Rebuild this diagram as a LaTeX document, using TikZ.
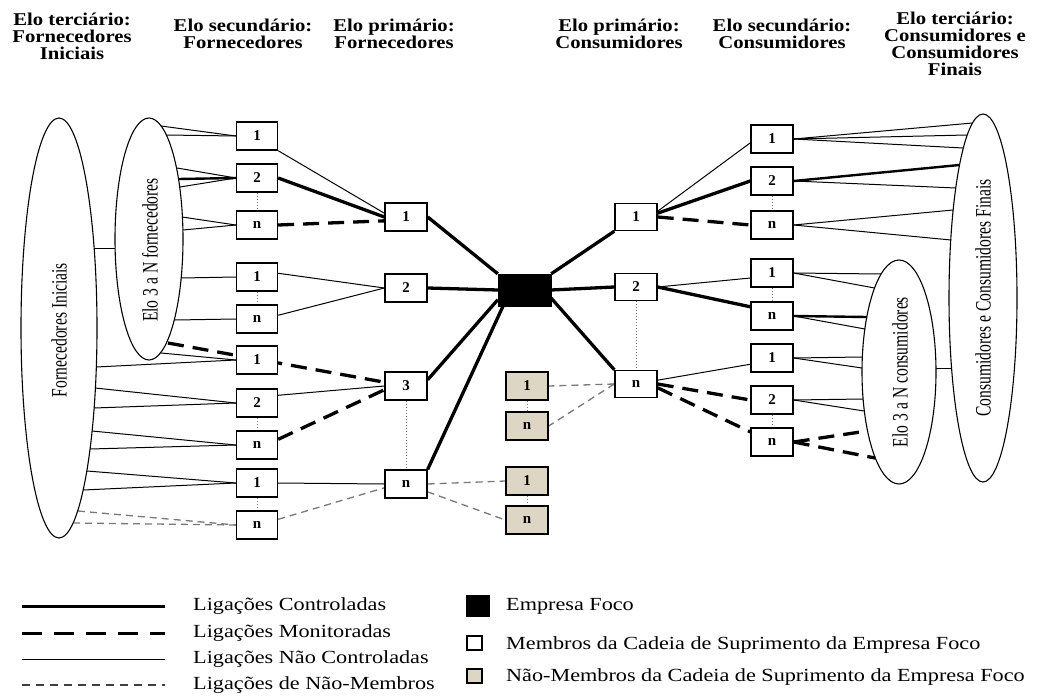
\documentclass[tikz,border=0pt]{standalone}
\usepackage{fontspec}
\setmainfont{Liberation Serif}
\newfontfamily\hdrfont[FakeStretch=1.15]{Liberation Serif}
\newfontfamily\rotfont[FakeStretch=0.71]{Liberation Serif}
\newfontfamily\legfont[FakeStretch=1.2]{Liberation Serif}
\usetikzlibrary{shapes.geometric}
\pgfdeclarelayer{bg}
\pgfsetlayers{bg,main}
\definecolor{beige}{RGB}{222,214,196}
\definecolor{nmgray}{RGB}{120,120,120}
\begin{document}
\begin{tikzpicture}[x=1pt,y=-1pt,
 box/.style={draw=black,line width=1.4pt,fill=white,minimum width=41pt,minimum height=28pt,inner sep=0pt,font=\bfseries\fontsize{15}{15}\selectfont},
 nmbox/.style={box,fill=beige},
 focus/.style={draw=black,fill=black,minimum width=53pt,minimum height=32pt,inner sep=0pt},
 hdr/.style={align=center,inner sep=0pt,font=\hdrfont\bfseries\fontsize{18}{17}\selectfont},
 ell/.style={draw=black,line width=1.1pt,ellipse,inner sep=0pt},
 rottxt/.style={rotate=90,inner sep=0pt,font=\rotfont\fontsize{22}{22}\selectfont},
 ctrl/.style={line width=3.3pt},
 mon/.style={line width=3.3pt,dash pattern=on 16pt off 9pt},
 unc/.style={line width=1pt},
 nonm/.style={line width=1.3pt,nmgray,dash pattern=on 7pt off 5pt},
 dots/.style={line width=1pt,nmgray,dotted},
 leg/.style={anchor=west,inner sep=0pt,font=\legfont\fontsize{18.5}{18.5}\selectfont}]
\useasboundingbox (0,0) rectangle (1040,698);

% headers
\node[hdr] (h1) at (72,36) {Elo terciário:\\Fornecedores\\Iniciais};
\node[hdr] (h2) at (243,34) {Elo secundário:\\Fornecedores};
\node[hdr] (h3) at (394,34) {Elo primário:\\Fornecedores};
\node[hdr] (h4) at (619,34) {Elo primário:\\Consumidores};
\node[hdr] (h5) at (782,34) {Elo secundário:\\Consumidores};
\node[hdr] (h6) at (955,44) {Elo terciário:\\Consumidores e\\Consumidores\\Finais};

% ellipses
\node[ell,minimum width=76pt,minimum height=420pt] (EB) at (59,328) {};
\node[rottxt] (EBt) at (59,330) {Fornecedores Iniciais};
\node[ell,minimum width=68pt,minimum height=242pt] (ES) at (149,239) {};
\node[rottxt] (ESt) at (150,250) {Elo 3 a N fornecedores};
\node[ell,minimum width=68pt,minimum height=368pt] (RB) at (983,298) {};
\node[rottxt] (RBt) at (983,298) {Consumidores e Consumidores Finais};
\node[ell,minimum width=74pt,minimum height=224pt] (RS) at (899,372) {};
\node[rottxt] (RSt) at (900,372) {Elo 3 a N consumidores};

% left secondary boxes
\node[box] (L1a) at (257,136) {1};
\node[box] (L2a) at (257,178) {2};
\node[box] (Lna) at (257,225) {n};
\node[box] (L1b) at (257,277) {1};
\node[box] (Lnb) at (257,319) {n};
\node[box] (L1c) at (257,360) {1};
\node[box] (L2c) at (257,403) {2};
\node[box] (Lnc) at (257,445) {n};
\node[box] (L1d) at (257,483) {1};
\node[box] (Lnd) at (257,525) {n};
% primary suppliers
\node[box,minimum width=42pt] (P1) at (406,217) {1};
\node[box,minimum width=42pt] (P2) at (406,288) {2};
\node[box,minimum width=42pt] (P3) at (406,386) {3};
\node[box,minimum width=42pt] (Pn) at (406,484) {n};
% focus
\node[focus] (F) at (524.5,290) {};
% non-members
\node[nmbox,minimum width=42pt] (NM1a) at (527,386) {1};
\node[nmbox,minimum width=42pt] (NMna) at (527,426) {n};
\node[nmbox,minimum width=42pt] (NM1b) at (527,481) {1};
\node[nmbox,minimum width=42pt] (NMnb) at (527,520) {n};
% primary consumers
\node[box,minimum width=42pt,minimum height=27pt] (C1) at (636,217) {1};
\node[box,minimum width=42pt,minimum height=27pt] (C2) at (636,287) {2};
\node[box,minimum width=42pt,minimum height=27pt] (Cn) at (636,384) {n};
% secondary consumers
\node[box,minimum width=42pt] (R1a) at (772,139) {1};
\node[box,minimum width=42pt] (R2a) at (772,181) {2};
\node[box,minimum width=42pt] (Rna) at (772,225) {n};
\node[box,minimum width=42pt] (R1b) at (772,273) {1};
\node[box,minimum width=42pt] (Rnb) at (772,316) {n};
\node[box,minimum width=42pt] (R1c) at (772,358) {1};
\node[box,minimum width=42pt] (R2c) at (772,400) {2};
\node[box,minimum width=42pt] (Rnc) at (772,442) {n};

% ellipse border coordinates
\coordinate (ef1) at (161,126);
\coordinate (ef2) at (166,135);
\coordinate (ef3) at (177,168);
\coordinate (ef4) at (178.5,179);
\coordinate (ef5) at (180,187);
\coordinate (ef6) at (182,217);
\coordinate (ef7) at (183,230);
\coordinate (ef8) at (181,278);
\coordinate (ef9) at (175,320);
\coordinate (ef10) at (161,353);
\coordinate (ef11) at (168,343);
\coordinate (ebc) at (94,248);
\coordinate (esc) at (115,248);
\coordinate (eb1) at (96,367);
\coordinate (eb2) at (95,388);
\coordinate (eb3) at (94,408);
\coordinate (eb4) at (92,431);
\coordinate (eb5) at (90,449);
\coordinate (eb6) at (87,471);
\coordinate (eb7) at (83,490);
\coordinate (eb8) at (78,511);
\coordinate (eb9) at (73,523);
\coordinate (rb1) at (972.5,123);
\coordinate (rb2) at (967,135);
\coordinate (rb3) at (963,148);
\coordinate (rb4) at (959.5,165);
\coordinate (rb5) at (956,188);
\coordinate (rb6) at (953,210);
\coordinate (rb7) at (951,240);
\coordinate (rs1) at (881,274);
\coordinate (rs2) at (874.5,288);
\coordinate (rs3) at (867,317);
\coordinate (rs4) at (865,329);
\coordinate (rs5) at (862,357);
\coordinate (rs6) at (862,368);
\coordinate (rs7) at (863,399);
\coordinate (rs8) at (864,411);
\coordinate (rs9) at (867,431);
\coordinate (rs10) at (875,458);
\coordinate (rsc) at (936,368);
\coordinate (rbc) at (952,368);

% legend
\coordinate (lg1a) at (22,606); \coordinate (lg1b) at (165,606);
\coordinate (lg2a) at (22,633); \coordinate (lg2b) at (165,633);
\coordinate (lg3a) at (22,659); \coordinate (lg3b) at (165,659);
\coordinate (lg4a) at (22,685); \coordinate (lg4b) at (165,685);
\node[leg] (t1) at (193,606) {Ligações Controladas};
\node[leg] (t2) at (193,633) {Ligações Monitoradas};
\node[leg] (t3) at (193,659) {Ligações Não Controladas};
\node[leg] (t4) at (193,685) {Ligações de Não-Membros};
\node[fill=black,minimum width=24pt,minimum height=22pt,inner sep=0pt] (s1) at (478,606) {};
\node[draw=black,line width=1.2pt,fill=white,minimum width=15pt,minimum height=14pt,inner sep=0pt] (s2) at (474.5,643) {};
\node[draw=black,line width=1.2pt,fill=beige,minimum width=15pt,minimum height=14pt,inner sep=0pt] (s3) at (474.5,676) {};
\node[leg] (t5) at (506,606) {Empresa Foco};
\node[leg] (t6) at (506,645) {Membros da Cadeia de Suprimento da Empresa Foco};
\node[leg] (t7) at (506,677) {Não-Membros da Cadeia de Suprimento da Empresa Foco};

\begin{pgfonlayer}{bg}
% legend lines
\draw[ctrl,line width=3pt] (lg1a) -- (lg1b);
\draw[mon,line width=3pt,dash pattern=on 20pt off 12pt] (lg2a) -- (lg2b);
\draw[unc] (lg3a) -- (lg3b);
\draw[line width=1.3pt,black!75,dash pattern=on 8pt off 6pt] (lg4a) -- (lg4b);

% ellipse links
\draw[unc] (ebc) -- (esc);
\draw[unc] (rsc) -- (rbc);

% left tertiary -> secondary
\draw[unc] (ef1) -- (L1a.west);
\draw[unc] (ef2) -- (L1a.west);
\draw[unc] (ef3) -- (L2a.west);
\draw[ctrl,line width=2.4pt] (ef4) -- (L2a.west);
\draw[unc] (ef5) -- (L2a.west);
\draw[unc] (ef6) -- (Lna.west);
\draw[unc] (ef7) -- (Lna.west);
\draw[unc] (ef8) -- (L1b.west);
\draw[unc] (ef9) -- (Lnb.west);
\draw[unc] (ef10) -- (L1c.west);
\draw[mon] (ef11) -- (P3.170);
\draw[unc] (eb1) -- (L1c.west);
\draw[unc] (eb2) -- (L2c.west);
\draw[unc] (eb3) -- (L2c.west);
\draw[unc] (eb4) -- (Lnc.west);
\draw[unc] (eb5) -- (Lnc.west);
\draw[unc] (eb6) -- (L1d.west);
\draw[unc] (eb7) -- (L1d.west);
\draw[nonm] (eb8) -- (Lnd.west);
\draw[nonm] (eb9) -- (Lnd.west);

% left secondary -> primary
\draw[unc] (L1a.south east) -- (P1.170);
\draw[ctrl] (L2a.east) -- (P1.west);
\draw[mon] (Lna.east) -- (P1.190);
\draw[unc] (L1b.10) -- (P2.west);
\draw[unc] (Lnb.10) -- (P2.west);
\draw[unc] (L2c.20) -- (P3.west);
\draw[mon] (Lnc.15) -- (P3.190);
\draw[unc] (L1d.east) -- (Pn.west);
\draw[nonm] (Lnd.15) -- (Pn.190);

% dotted vertical
\draw[dots] (L2a.south) -- (Lna.north);
\draw[dots] (L1b.south) -- (Lnb.north);
\draw[dots] (L2c.south) -- (Lnc.north);
\draw[dots] (L1d.south) -- (Lnd.north);
\draw[dots] (P3.south) -- (Pn.north);
\draw[dots] (NM1a.south) -- (NMna.north);
\draw[dots] (NM1b.south) -- (NMnb.north);
\draw[dots] (C2.south) -- (Cn.north);
\draw[dots] (R2a.south) -- (Rna.north);
\draw[dots] (R1b.south) -- (Rnb.north);
\draw[dots] (R2c.south) -- (Rnc.north);

% primary -> focus
\draw[ctrl] (P1.east) -- (F.north west);
\draw[ctrl] (P2.east) -- (F.west);
\draw[ctrl] (P3.16) -- (F.200);
\draw[ctrl] (Pn.north east) -- (F.217);
\draw[ctrl] (F.north east) -- (C1.south west);
\draw[ctrl] (F.east) -- (C2.west);
\draw[ctrl] (F.-17) -- (Cn.north west);

% non-members
\draw[nonm] (Pn.east) -- (NM1b.west);
\draw[nonm] (Pn.-20) -- (NMnb.west);
\draw[nonm] (Cn.west) -- (NM1a.east);
\draw[nonm] (Cn.west) -- (NMna.east);

% primary consumers -> secondary
\draw[unc] (C1.15) -- (R1a.190);
\draw[ctrl] (C1.10) -- (R2a.west);
\draw[mon] (C1.east) -- (Rna.west);
\draw[unc] (C2.east) -- (R1b.193);
\draw[ctrl] (C2.east) -- (Rnb.157);
\draw[unc] (Cn.10) -- (R1c.196);
\draw[mon] (Cn.east) -- (R2c.west);
\draw[mon] (Cn.-10) -- (Rnc.155);

% secondary consumers -> tertiary
\draw[unc] (R1a.east) -- (rb1);
\draw[unc] (R1a.east) -- (rb2);
\draw[unc] (R1a.east) -- (rb3);
\draw[ctrl,line width=2.4pt] (R2a.east) -- (rb4);
\draw[unc] (R2a.east) -- (rb5);
\draw[unc] (Rna.east) -- (rb6);
\draw[unc] (Rna.east) -- (rb7);
\draw[unc] (R1b.east) -- (rs1);
\draw[unc] (R1b.east) -- (rs2);
\draw[ctrl,line width=2.4pt] (Rnb.east) -- (rs3);
\draw[unc] (Rnb.east) -- (rs4);
\draw[unc] (R1c.east) -- (rs5);
\draw[unc] (R1c.east) -- (rs6);
\draw[unc] (R2c.east) -- (rs7);
\draw[unc] (R2c.east) -- (rs8);
\draw[mon] (Rnc.east) -- (rs9);
\draw[mon] (Rnc.east) -- (rs10);
\end{pgfonlayer}
\end{tikzpicture}
\end{document}
